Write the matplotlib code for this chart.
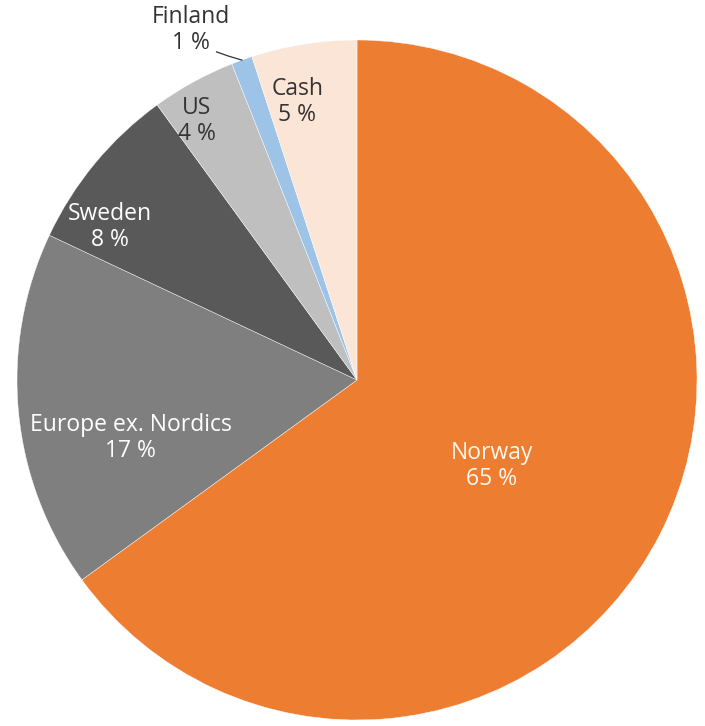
import numpy as np
import matplotlib.pyplot as plt

regions = ['Norway', 'Europe ex. Nordics', 'Sweden', 'US', 'Finland', 'Cash']
shares = [65, 17, 8, 4, 1, 5]
colors = ['#ED7D31', '#7F7F7F', '#595959', '#BFBFBF', '#9DC3E6', '#FBE5D6']
text_colors = ['#FFF8EE', 'white', 'white', '#333333', '#333333', '#333333']
# label positions in data units (pie radius = 1)
label_pos = [(0.397, -0.253), (-0.665, -0.171), (-0.726, 0.45),
             (-0.471, 0.762), (-0.488, 1.029), (-0.176, 0.818)]

plt.rcParams['font.family'] = ['Open Sans', 'DejaVu Sans']

fig = plt.figure(figsize=(7.05, 7.26), dpi=100)
ax = fig.add_axes([17 / 705, 6 / 726, 680 / 705, 680 / 726])

wedges, _ = ax.pie(shares, colors=colors, startangle=90, counterclock=False,
                   radius=1, wedgeprops=dict(edgecolor='white', linewidth=0.3))

for w, name, val, pos, tc in zip(wedges, regions, shares, label_pos, text_colors):
    ax.text(pos[0], pos[1], f'{name}\n{val} %', ha='center', va='center',
            fontsize=16.5, color=tc, linespacing=1.15)
    if name == 'Finland':
        # short leader line from label to the thin slice
        mid = np.deg2rad((w.theta1 + w.theta2) / 2)
        tip = (np.cos(mid), np.sin(mid))
        ax.plot([pos[0] + 0.075, pos[0] + 0.109, tip[0]],
                [pos[1] - 0.064, pos[1] - 0.076, tip[1]],
                color='#333333', lw=0.9)

ax.set_xlim(-1, 1)
ax.set_ylim(-1, 1)
ax.set_aspect('equal')
ax.axis('off')

fig.savefig('out.png', dpi=100)
